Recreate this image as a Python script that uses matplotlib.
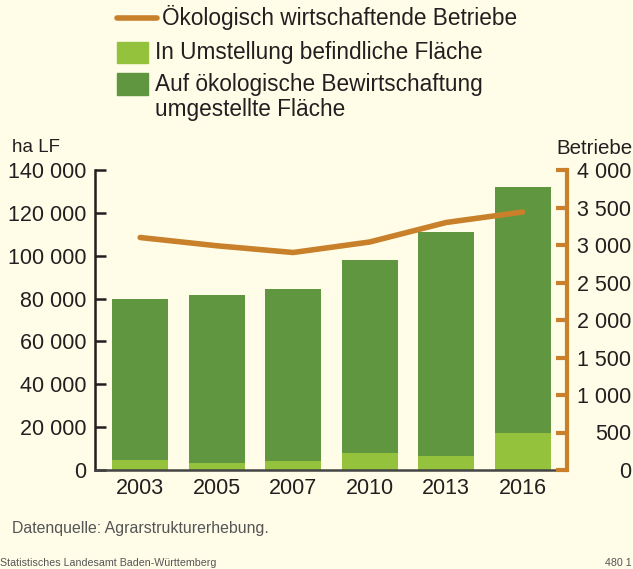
import matplotlib.pyplot as plt
from matplotlib.ticker import FuncFormatter
from matplotlib.lines import Line2D
from matplotlib.patches import Rectangle

plt.rcParams['font.family'] = ['Liberation Sans', 'DejaVu Sans']

years = ['2003', '2005', '2007', '2010', '2013', '2016']
umstellung = [4700, 3300, 4000, 7900, 6500, 17300]
gesamt = [79700, 81700, 84500, 98000, 111000, 131900]
umgestellt = [g - u for g, u in zip(gesamt, umstellung)]
betriebe = [3100, 2990, 2900, 3040, 3300, 3440]

bg = '#fffde8'
dark_green = '#60963f'
light_green = '#95c23d'
orange = '#c8802a'
text_col = '#231f20'

W, H = 633, 569


def fmt(v, pos):
    return '{:,.0f}'.format(v).replace(',', ' ')


def fx(px):
    return px / W


def fy(py):
    return 1 - py / H


fig = plt.figure(figsize=(6.33, 5.69), dpi=100, facecolor=bg)
ax = fig.add_axes([fx(95), fy(470), (567 - 95) / W, 300 / H])
ax.set_facecolor(bg)
x = range(len(years))
ax.bar(x, umstellung, width=0.73, color=light_green, zorder=2)
ax.bar(x, umgestellt, width=0.73, bottom=umstellung, color=dark_green, zorder=2)
ax.set_xlim(-0.59, 5.58)
ax.set_ylim(0, 140000)
ax.set_yticks(range(0, 140001, 20000))
ax.yaxis.set_major_formatter(FuncFormatter(fmt))
ax.set_xticks(list(x))
ax.set_xticklabels(years)
ax.tick_params(axis='y', direction='in', length=8, width=1.8, color=text_col,
               labelsize=15.5, labelcolor=text_col, pad=6)
ax.tick_params(axis='x', length=0, labelsize=15.5, labelcolor=text_col, pad=6)
for s in ['top', 'right']:
    ax.spines[s].set_visible(False)
ax.spines['left'].set_linewidth(1.8)
ax.spines['left'].set_color(text_col)
ax.spines['bottom'].set_linewidth(1.8)
ax.spines['bottom'].set_color('#444444')
ax.spines['bottom'].set_zorder(3)

ax2 = ax.twinx()
ax2.plot(x, betriebe, color=orange, lw=4, solid_capstyle='round', zorder=4)
ax2.set_ylim(0, 4000)
ax2.set_yticks(range(0, 4001, 500))
ax2.yaxis.set_major_formatter(FuncFormatter(fmt))
ax2.tick_params(axis='y', direction='in', length=8, width=3, color=orange,
                labelsize=15.5, labelcolor=text_col, pad=46)
for lab in ax2.get_yticklabels():
    lab.set_horizontalalignment('right')
for s in ['top', 'left', 'bottom']:
    ax2.spines[s].set_visible(False)
ax2.spines['right'].set_linewidth(3)
ax2.spines['right'].set_color(orange)

fig.text(fx(12), fy(148), 'ha LF', fontsize=13.5, color=text_col, va='center')
fig.text(fx(632), fy(148), 'Betriebe', fontsize=14.8, color=text_col,
         va='center', ha='right')

# legend drawn by hand
fig.add_artist(Line2D([fx(117), fx(157)], [fy(18), fy(18)], color=orange, lw=4,
                      solid_capstyle='round', transform=fig.transFigure))
fig.add_artist(Rectangle((fx(117), fy(63)), 31 / W, 21 / H, color=light_green,
                         transform=fig.transFigure))
fig.add_artist(Rectangle((fx(117), fy(95)), 31 / W, 22 / H, color=dark_green,
                         transform=fig.transFigure))
fig.text(fx(162), fy(18), 'Ökologisch wirtschaftende Betriebe', fontsize=16.3,
         color=text_col, va='center')
fig.text(fx(155), fy(52), 'In Umstellung befindliche Fläche', fontsize=16.3,
         color=text_col, va='center')
fig.text(fx(155), fy(85), 'Auf ökologische Bewirtschaftung', fontsize=16.3,
         color=text_col, va='center')
fig.text(fx(155), fy(110), 'umgestellte Fläche', fontsize=16.3,
         color=text_col, va='center')

fig.text(fx(12), fy(528), 'Datenquelle: Agrarstrukturerhebung.',
         fontsize=11.4, color='#555555', va='center')
fig.text(0, fy(563), 'Statistisches Landesamt Baden-Württemberg',
         fontsize=7.7, color='#555555', va='center')
fig.text(fx(632), fy(563), '480 1', fontsize=7.7, color='#555555',
         va='center', ha='right')

fig.savefig('out.png', dpi=100, facecolor=bg)
